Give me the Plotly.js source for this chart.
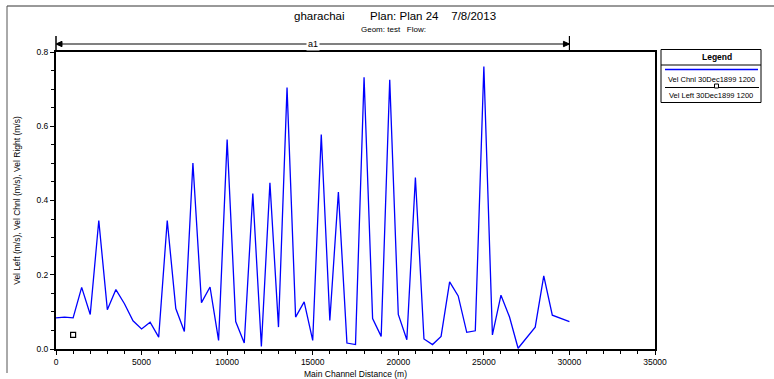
<!DOCTYPE html>
<html>
<head>
<meta charset="utf-8">
<script src="https://cdn.plot.ly/plotly-3.0.1.min.js"></script>
<style>html,body{margin:0;padding:0;background:#fff;}#chart{width:774px;height:379px;}</style>
</head>
<body>
<div id="chart"></div>
<script>
// ---- data ----
const dist = [0,500,1000,1500,2000,2500,3000,3500,4000,4500,5000,5500,6000,6500,7000,7500,8000,8500,9000,9500,
  10000,10500,11000,11500,12000,12500,13000,13500,14000,14500,15000,15500,16000,16500,17000,17500,18000,18500,19000,19500,
  20000,20500,21000,21500,22000,22500,23000,23500,24000,24500,25000,25500,26000,26500,27000,28000,28500,29000,30000];
const velChnl = [0.084,0.086,0.084,0.166,0.093,0.346,0.106,0.160,0.122,0.076,0.054,0.072,0.032,0.346,0.109,0.047,0.501,0.125,0.167,0.023,
  0.564,0.074,0.016,0.419,0.007,0.448,0.059,0.704,0.086,0.127,0.023,0.578,0.077,0.423,0.016,0.012,0.732,0.082,0.034,0.725,
  0.093,0.025,0.462,0.027,0.012,0.034,0.181,0.143,0.045,0.049,0.761,0.038,0.145,0.086,0.002,0.059,0.197,0.091,0.074];
const velLeftX = [1000];
const velLeftY = [0.038];
const reachName = "a1";
const seriesNames = ["Vel Chnl 30Dec1899 1200", "Vel Left 30Dec1899 1200"];
const titleText = "gharachai&nbsp;&nbsp;&nbsp;&nbsp;&nbsp;&nbsp;&nbsp;&nbsp;Plan: Plan 24&nbsp;&nbsp;&nbsp;&nbsp;7/8/2013";
const subTitleText = "Geom: test&nbsp;&nbsp;&nbsp;Flow:";
const xTitle = "Main Channel Distance (m)";
const yTitle = "Vel Left (m/s), Vel Chnl (m/s), Vel Right (m/s)";

// ---- geometry helpers (pixel -> paper) ----
const W = 774, H = 379, ML = 56, MR = 119, MT = 52, MB = 30;
const PW = W - ML - MR, PH = H - MT - MB;
const px = x => (x - ML) / PW;
const py = y => (H - MB - y) / PH;
const FONT = "Liberation Sans, Arial, sans-serif";

const traces = [
  {x: dist, y: velChnl, type: 'scatter', mode: 'lines', name: seriesNames[0],
   line: {color: '#0000ff', width: 1.3}},
  {x: velLeftX, y: velLeftY, type: 'scatter', mode: 'markers', name: seriesNames[1],
   marker: {symbol: 'square-open', size: 5, color: '#000', line: {width: 1.2, color: '#000'}}}
];

const x0 = dist[0], x1 = dist[dist.length - 1];
const yb = py(44);
const shapes = [
  // outer frame
  {type: 'line', xref: 'paper', yref: 'paper', x0: px(7), x1: px(774), y0: py(6), y1: py(6), line: {color: '#333', width: 1}},
  {type: 'line', xref: 'paper', yref: 'paper', x0: px(7), x1: px(7), y0: py(6), y1: py(373), line: {color: '#555', width: 1}},
  // y axis extension
  {type: 'line', xref: 'paper', yref: 'paper', x0: 0, x1: 0, y0: 1, y1: py(36), line: {color: '#000', width: 1.5}},
  // reach bracket
  {type: 'line', xref: 'x', yref: 'paper', x0: x0, x1: x1, y0: yb, y1: yb, line: {color: '#808080', width: 2}},
  {type: 'line', xref: 'x', yref: 'paper', x0: x1, x1: x1, y0: 1, y1: py(36), line: {color: '#000', width: 1.2}},
  {type: 'path', xref: 'x', yref: 'paper', path: `M ${x0} ${yb} L ${x0+350} ${yb+0.009} L ${x0+350} ${yb-0.009} Z`, fillcolor: '#000', line: {color: '#000', width: 1}},
  {type: 'path', xref: 'x', yref: 'paper', path: `M ${x1} ${yb} L ${x1-350} ${yb+0.009} L ${x1-350} ${yb-0.009} Z`, fillcolor: '#000', line: {color: '#000', width: 1}},
  // legend box
  {type: 'rect', xref: 'paper', yref: 'paper', x0: px(661), x1: px(761), y0: py(49.5), y1: py(102.5), line: {color: '#000', width: 1}, fillcolor: 'rgba(0,0,0,0)'},
  {type: 'line', xref: 'paper', yref: 'paper', x0: px(661), x1: px(761), y0: py(65), y1: py(65), line: {color: '#000', width: 1}},
  {type: 'line', xref: 'paper', yref: 'paper', x0: px(665), x1: px(758), y0: py(69.5), y1: py(69.5), line: {color: '#0000ff', width: 1.3}},
  {type: 'line', xref: 'paper', yref: 'paper', x0: px(665), x1: px(759), y0: py(87.5), y1: py(87.5), line: {color: '#000', width: 1}},
  {type: 'rect', xref: 'paper', yref: 'paper', x0: px(714.5), x1: px(718.5), y0: py(84), y1: py(88), line: {color: '#000', width: 1}, fillcolor: '#fff'}
];

const ann = (text, x, y, size, extra) => Object.assign({
  text: text, xref: 'paper', yref: 'paper', x: px(x), y: py(y), showarrow: false,
  xanchor: 'center', yanchor: 'middle', font: {family: FONT, size: size, color: '#000'}
}, extra || {});

const annotations = [
  ann(titleText, 395, 16, 11.5),
  ann(subTitleText, 393, 29, 8),
  Object.assign(ann(reachName, 0, 44, 9, {bgcolor: '#fff', borderpad: 1}), {xref: 'x', x: (x0 + x1) / 2}),
  ann("<b>Legend</b>", 717, 57, 8.5),
  ann(seriesNames[0], 711, 79.5, 7.5),
  ann(seriesNames[1], 711, 95, 7.5)
];

const layout = {
  width: W, height: H, autosize: false,
  margin: {l: ML, r: MR, t: MT, b: MB, pad: 0},
  paper_bgcolor: '#fff', plot_bgcolor: '#fff',
  showlegend: false,
  font: {family: FONT, size: 9, color: '#000'},
  xaxis: {
    range: [0, 35000], dtick: 5000, tick0: 0, tickformat: 'd',
    showgrid: false, zeroline: false, automargin: false,
    showline: true, mirror: true, linecolor: '#000', linewidth: 2,
    ticks: 'outside', ticklen: 4, tickwidth: 1, tickcolor: '#000',
    minor: {dtick: 1000, ticks: 'outside', ticklen: 3, tickcolor: '#000', showgrid: false},
    tickfont: {family: FONT, size: 8.5},
    title: {text: xTitle, font: {family: FONT, size: 8.5}, standoff: 12}
  },
  yaxis: {
    range: [0, 0.8], dtick: 0.2, tick0: 0, tickformat: '.1f',
    showgrid: false, zeroline: false, automargin: false,
    showline: true, mirror: true, linecolor: '#000', linewidth: 2,
    ticks: 'outside', ticklen: 4, tickwidth: 1, tickcolor: '#000',
    minor: {dtick: 0.05, ticks: 'outside', ticklen: 3, tickcolor: '#000', showgrid: false},
    tickfont: {family: FONT, size: 8.5},
    title: {text: yTitle, font: {family: FONT, size: 8.5}, standoff: 14}
  },
  shapes: shapes,
  annotations: annotations
};

Plotly.newPlot('chart', traces, layout, {displayModeBar: false, staticPlot: true});
</script>
</body>
</html>
